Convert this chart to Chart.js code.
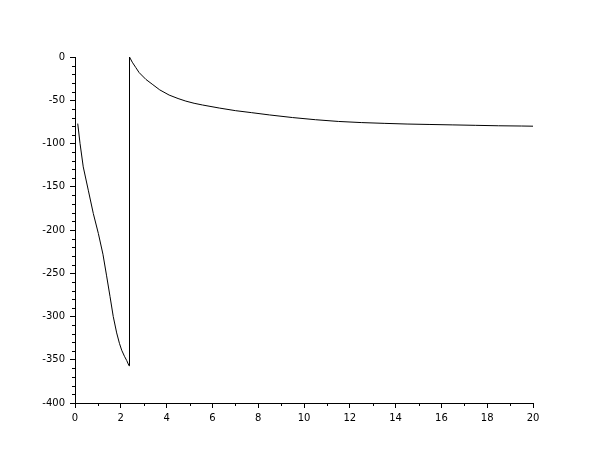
<!DOCTYPE html>
<html>
<head>
<meta charset="utf-8">
<script src="https://cdn.jsdelivr.net/npm/chart.js@4"></script>
<style>
  html, body { margin: 0; padding: 0; background: #fff; }
  canvas { display: block; }
</style>
</head>
<body>
<canvas id="plot" width="610" height="460"></canvas>
<script>
// curve (time vs response)
var xValues = [0.12, 0.22, 0.36, 0.58, 0.8, 1.02, 1.22, 1.38, 1.53, 1.67, 1.82, 1.94, 2.04, 2.16, 2.26, 2.36,
  2.38, 2.5, 2.65, 2.8, 3.1, 3.4, 3.7, 4.11, 4.5, 4.84, 5.2, 5.57, 6.3, 7, 7.7, 8.5, 9.5, 10.5,
  11.5, 12.5, 13.5, 14.5, 15.5, 16.5, 17.5, 18.5, 19.5, 20];
var yValues = [-77, -100, -127, -154, -181, -204, -228, -253, -277, -300, -319, -331, -339, -346, -351, -357,
  0, -6, -12, -18, -26, -32, -38, -44, -48, -51, -53.5, -55.5, -59, -62, -64.3, -67, -70, -72.5,
  -74.5, -75.8, -76.7, -77.5, -78, -78.5, -79, -79.5, -79.8, -80];
var xTicks = [0, 2, 4, 6, 8, 10, 12, 14, 16, 18, 20];
var yTicks = [-400, -350, -300, -250, -200, -150, -100, -50, 0];
var xMinorStep = 1;
var yMinorStep = 10;

var pts = [];
for (var i = 0; i < xValues.length; i++) {
  pts.push({ x: xValues[i], y: yValues[i] });
}

var tickFont = { family: 'DejaVu Sans', size: 10 };

// short minor ticks between the labelled ones
var minorTicks = {
  id: 'minorTicks',
  afterDraw: function (chart) {
    var ctx = chart.ctx;
    var xs = chart.scales.x, ys = chart.scales.y;
    ctx.save();
    ctx.strokeStyle = '#000';
    ctx.lineWidth = 1;
    ctx.beginPath();
    for (var v = xs.min; v <= xs.max; v += xMinorStep) {
      if (xTicks.indexOf(v) >= 0) continue;
      var px = Math.round(xs.getPixelForValue(v)) + 0.5;
      ctx.moveTo(px, ys.bottom);
      ctx.lineTo(px, ys.bottom + 3);
    }
    for (var w = ys.min; w <= ys.max; w += yMinorStep) {
      if (yTicks.indexOf(w) >= 0) continue;
      var py = Math.round(ys.getPixelForValue(w)) + 0.5;
      ctx.moveTo(xs.left, py);
      ctx.lineTo(xs.left - 3, py);
    }
    ctx.stroke();
    ctx.restore();
  }
};

new Chart(document.getElementById('plot').getContext('2d'), {
  type: 'scatter',
  data: {
    datasets: [{
      data: pts,
      showLine: true,
      borderColor: '#000',
      borderWidth: 1,
      pointRadius: 0,
      tension: 0,
      fill: false
    }]
  },
  options: {
    responsive: false,
    animation: false,
    layout: { padding: { top: 57, right: 77, left: 0, bottom: 0 } },
    plugins: { legend: { display: false }, tooltip: { enabled: false } },
    scales: {
      x: {
        type: 'linear',
        min: 0,
        max: 20,
        afterBuildTicks: function (s) { s.ticks = xTicks.map(function (v) { return { value: v }; }); },
        afterFit: function (s) { s.height = 57; },
        ticks: { color: '#000', font: tickFont, padding: 4, maxRotation: 0 },
        grid: { drawOnChartArea: false, drawTicks: true, tickLength: 5, color: '#000' },
        border: { display: true, color: '#000' }
      },
      y: {
        type: 'linear',
        min: -400,
        max: 0,
        afterBuildTicks: function (s) { s.ticks = yTicks.map(function (v) { return { value: v }; }); },
        afterFit: function (s) { s.width = 75; },
        ticks: { color: '#000', font: tickFont, padding: 5 },
        grid: { drawOnChartArea: false, drawTicks: true, tickLength: 5, color: '#000' },
        border: { display: true, color: '#000' }
      }
    }
  },
  plugins: [minorTicks]
});
</script>
</body>
</html>
